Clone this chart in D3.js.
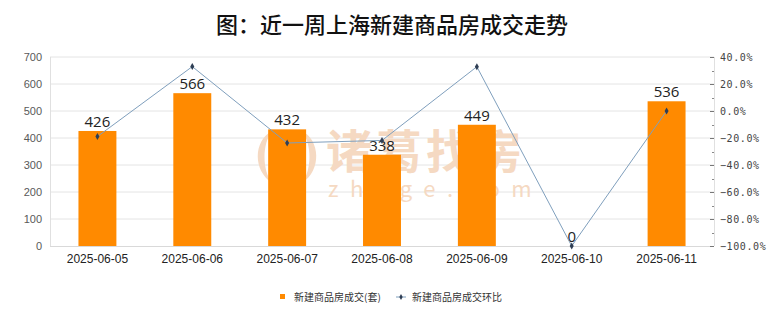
<!DOCTYPE html>
<html>
<head>
<meta charset="utf-8">
<script src="https://cdn.jsdelivr.net/npm/d3@7/dist/d3.min.js"></script>
<style>
  html, body { margin: 0; padding: 0; background: #ffffff; }
  svg { display: block; font-family: "Noto Sans CJK SC", "Noto Sans", sans-serif; }
</style>
</head>
<body>
<svg id="chart" width="780" height="328"></svg>
<script>
// Weekly new-home transactions in Shanghai
const dates = ["2025-06-05", "2025-06-06", "2025-06-07", "2025-06-08", "2025-06-09", "2025-06-10", "2025-06-11"];
const units = [426, 566, 432, 338, 449, 0, 536];
// Day-over-day change, in percent
const changePct = [-18.9, 32.9, -23.7, -21.8, 32.8, -100.0, 0.0];
const leftTicks = [0, 100, 200, 300, 400, 500, 600, 700];
const rightTicks = [-100, -80, -60, -40, -20, 0, 20, 40];

const title = "图：近一周上海新建商品房成交走势";
const barName = "新建商品房成交(套)";
const lineName = "新建商品房成交环比";

const svg = d3.select("#chart");
const W = 780, H = 328;
const m = { top: 57, right: 66, bottom: 82, left: 50 };
const pw = W - m.left - m.right, ph = H - m.top - m.bottom;

const x = d3.scaleBand().domain(dates).range([m.left, m.left + pw]).paddingInner(0.6).paddingOuter(0.3);
const xc = d3.scaleBand().domain(dates).range([m.left, m.left + pw]);
const y = d3.scaleLinear().domain([0, 700]).range([m.top + ph, m.top]);
const y2 = d3.scaleLinear().domain([-100, 40]).range([m.top + ph, m.top]);

// Title
svg.append("text")
  .attr("x", W / 2 + 2).attr("y", 33)
  .attr("text-anchor", "middle")
  .attr("font-size", 22).attr("font-weight", 500)
  .attr("fill", "#111")
  .text(title);

// Gridlines
svg.append("g").selectAll("line").data(leftTicks.slice(1)).join("line")
  .attr("x1", m.left).attr("x2", m.left + pw)
  .attr("y1", d => y(d)).attr("y2", d => y(d))
  .attr("stroke", "#e4e4e4").attr("stroke-width", 1);

// Plot frame sides
svg.append("line").attr("x1", m.left + 0.5).attr("x2", m.left + 0.5)
  .attr("y1", m.top).attr("y2", m.top + ph).attr("stroke", "#e0e0e0");
svg.append("line").attr("x1", m.left + pw + 0.5).attr("x2", m.left + pw + 0.5)
  .attr("y1", m.top).attr("y2", m.top + ph).attr("stroke", "#e0e0e0");

// Brand watermark behind the bars
const wmColor = "#f5d9c2";
const wm = svg.append("g").attr("fill", wmColor);
// leaf-shaped emblem: two outer crescents and a central flame
wm.append("path").attr("d", "M272,131 C254,140 252,170 272,183 C262,170 262,144 272,131 Z");
wm.append("path").attr("d", "M302,131 C320,140 322,170 302,183 C312,170 312,144 302,131 Z");
wm.append("path").attr("d", "M287,133 C273,150 275,172 287,180 C299,172 301,150 287,133 Z");
wm.append("text").attr("x", 326).attr("y", 168).attr("font-size", 46).attr("font-weight", 700)
  .attr("letter-spacing", 4).text("诸葛找房");
wm.append("text").attr("x", 328).attr("y", 197).attr("font-size", 22)
  .attr("letter-spacing", 11.5).text("zhuge.com");

// Bars
svg.append("g").selectAll("rect").data(dates).join("rect")
  .attr("x", d => x(d))
  .attr("y", (d, i) => y(units[i]))
  .attr("width", x.bandwidth())
  .attr("height", (d, i) => y(0) - y(units[i]))
  .attr("fill", "#ff8a00");

// Bottom axis line
svg.append("line").attr("x1", m.left).attr("x2", m.left + pw)
  .attr("y1", y(0) + 0.5).attr("y2", y(0) + 0.5).attr("stroke", "#d9d9d9");

// Left axis
const gl = svg.append("g").attr("transform", `translate(${m.left},0)`)
  .call(d3.axisLeft(y).tickValues(leftTicks).tickSize(0).tickPadding(8));
gl.select(".domain").remove();
gl.selectAll("text").attr("font-size", 11).attr("fill", "#595959")
  .attr("font-family", "'Liberation Sans', Arial, sans-serif");

// Right axis with inward major ticks and minor ticks between
const minor = d3.range(-90, 40, 20);
svg.append("g").selectAll("line").data(minor).join("line")
  .attr("x1", m.left + pw - 2).attr("x2", m.left + pw)
  .attr("y1", d => Math.round(y2(d)) + 0.5).attr("y2", d => Math.round(y2(d)) + 0.5)
  .attr("stroke", "#888");
const gr = svg.append("g").attr("transform", `translate(${m.left + pw},0)`)
  .call(d3.axisRight(y2).tickValues(rightTicks).tickSizeInner(-4).tickSizeOuter(0).tickPadding(6)
    .tickFormat(d => d3.format(".1f")(d) + "%"));
gr.select(".domain").remove();
gr.selectAll(".tick line").attr("stroke", "#777");
gr.selectAll("text").attr("fill", "#444")
  .attr("letter-spacing", 0.6)
  .attr("font-family", "'DejaVu Sans Mono', monospace")
  .attr("font-size", 10);

// Category labels
const gx = svg.append("g").attr("transform", `translate(0,${y(0)})`)
  .call(d3.axisBottom(xc).tickSize(0).tickPadding(8));
gx.select(".domain").remove();
gx.selectAll("text").attr("font-size", 12).attr("fill", "#222")
  .attr("font-family", "'Liberation Sans', Arial, sans-serif");

// Bar value labels
svg.append("g").selectAll("text").data(dates).join("text")
  .attr("x", d => x(d) + x.bandwidth() / 2)
  .attr("y", (d, i) => y(units[i]) - 4)
  .attr("text-anchor", "middle")
  .attr("font-size", 15).attr("fill", "#222")
  .attr("font-family", "'Open Sans', 'Liberation Sans', sans-serif")
  .text((d, i) => units[i]);

// Change line
const line = d3.line()
  .x((d, i) => xc(dates[i]) + xc.bandwidth() / 2)
  .y(d => y2(d));
svg.append("path").datum(changePct)
  .attr("d", line).attr("fill", "none")
  .attr("stroke", "#7f9fbd").attr("stroke-width", 1);
svg.append("g").selectAll("path").data(changePct).join("path")
  .attr("transform", (d, i) => `translate(${xc(dates[i]) + xc.bandwidth() / 2},${y2(d)})`)
  .attr("d", d3.symbol(d3.symbolDiamond, 14))
  .attr("fill", "#2f3f55");

// Legend
const lg = svg.append("g").attr("font-size", 10).attr("fill", "#333");
lg.append("rect").attr("x", 280).attr("y", 294).attr("width", 5).attr("height", 5).attr("fill", "#ff8a00");
lg.append("text").attr("x", 294).attr("y", 300.5).text(barName);
lg.append("line").attr("x1", 396).attr("x2", 406).attr("y1", 297).attr("y2", 297)
  .attr("stroke", "#7f9fbd");
lg.append("path").attr("transform", "translate(401,297)")
  .attr("d", d3.symbol(d3.symbolDiamond, 10)).attr("fill", "#2f3f55");
lg.append("text").attr("x", 412).attr("y", 300.5).text(lineName);
</script>
</body>
</html>
